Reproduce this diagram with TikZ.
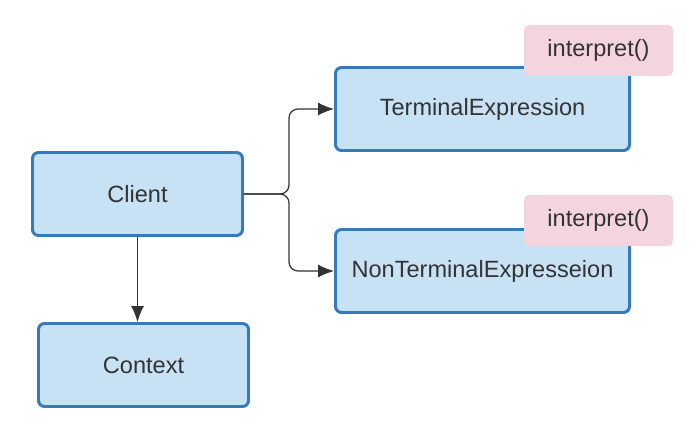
\documentclass[tikz,border=0pt]{standalone}
\usepackage{fontspec}
\setmainfont{Liberation Sans}
\usetikzlibrary{positioning,arrows.meta}
\definecolor{boxfill}{RGB}{200,226,245}
\definecolor{boxline}{RGB}{54,122,187}
\definecolor{notefill}{RGB}{244,212,222}
\definecolor{inkgray}{RGB}{51,51,51}
\tikzset{
  flowarrow/.style={-{Latex[length=0.32cm, width=0.26cm]}, line width=0.7pt, draw=inkgray},
  classbox/.style={draw=boxline, fill=boxfill, rounded corners=0.12cm, line width=1.7pt, minimum width=4.2cm, minimum height=1.66cm, align=center, text=inkgray},
  methodtag/.style={fill=notefill, rounded corners=0.1cm, minimum width=2.98cm, minimum height=1.02cm, align=center, text=inkgray}
}

\begin{document}
\begin{tikzpicture}[every node/.style={font=\fontsize{13.4}{15}\selectfont}]
      \useasboundingbox (0,0) rectangle (14,8.54);
      \node[classbox] (client) at (2.75,4.66) {Client};
      \node[classbox] (context) at (2.87,1.24) {Context};
      \node[classbox, minimum width=5.88cm] (term) at (9.65,6.36) {TerminalExpression};
      \node[classbox, minimum width=5.88cm] (nonterm) at (9.65,3.12) {NonTerminalExpresseion};
      \node[methodtag] (interp1) at (11.97,7.53) {interpret()};
      \node[methodtag] (interp2) at (11.97,4.13) {interpret()};
      \coordinate (split) at (5.78,4.66);
      \draw[flowarrow] (client.south) -- (client.south |- context.north);
      \draw[flowarrow, rounded corners=0.18cm] (client.east) -- (split) |- (term.west);
      \draw[flowarrow, rounded corners=0.18cm] (client.east) -- (split) |- (nonterm.west);
    \end{tikzpicture}
\end{document}
